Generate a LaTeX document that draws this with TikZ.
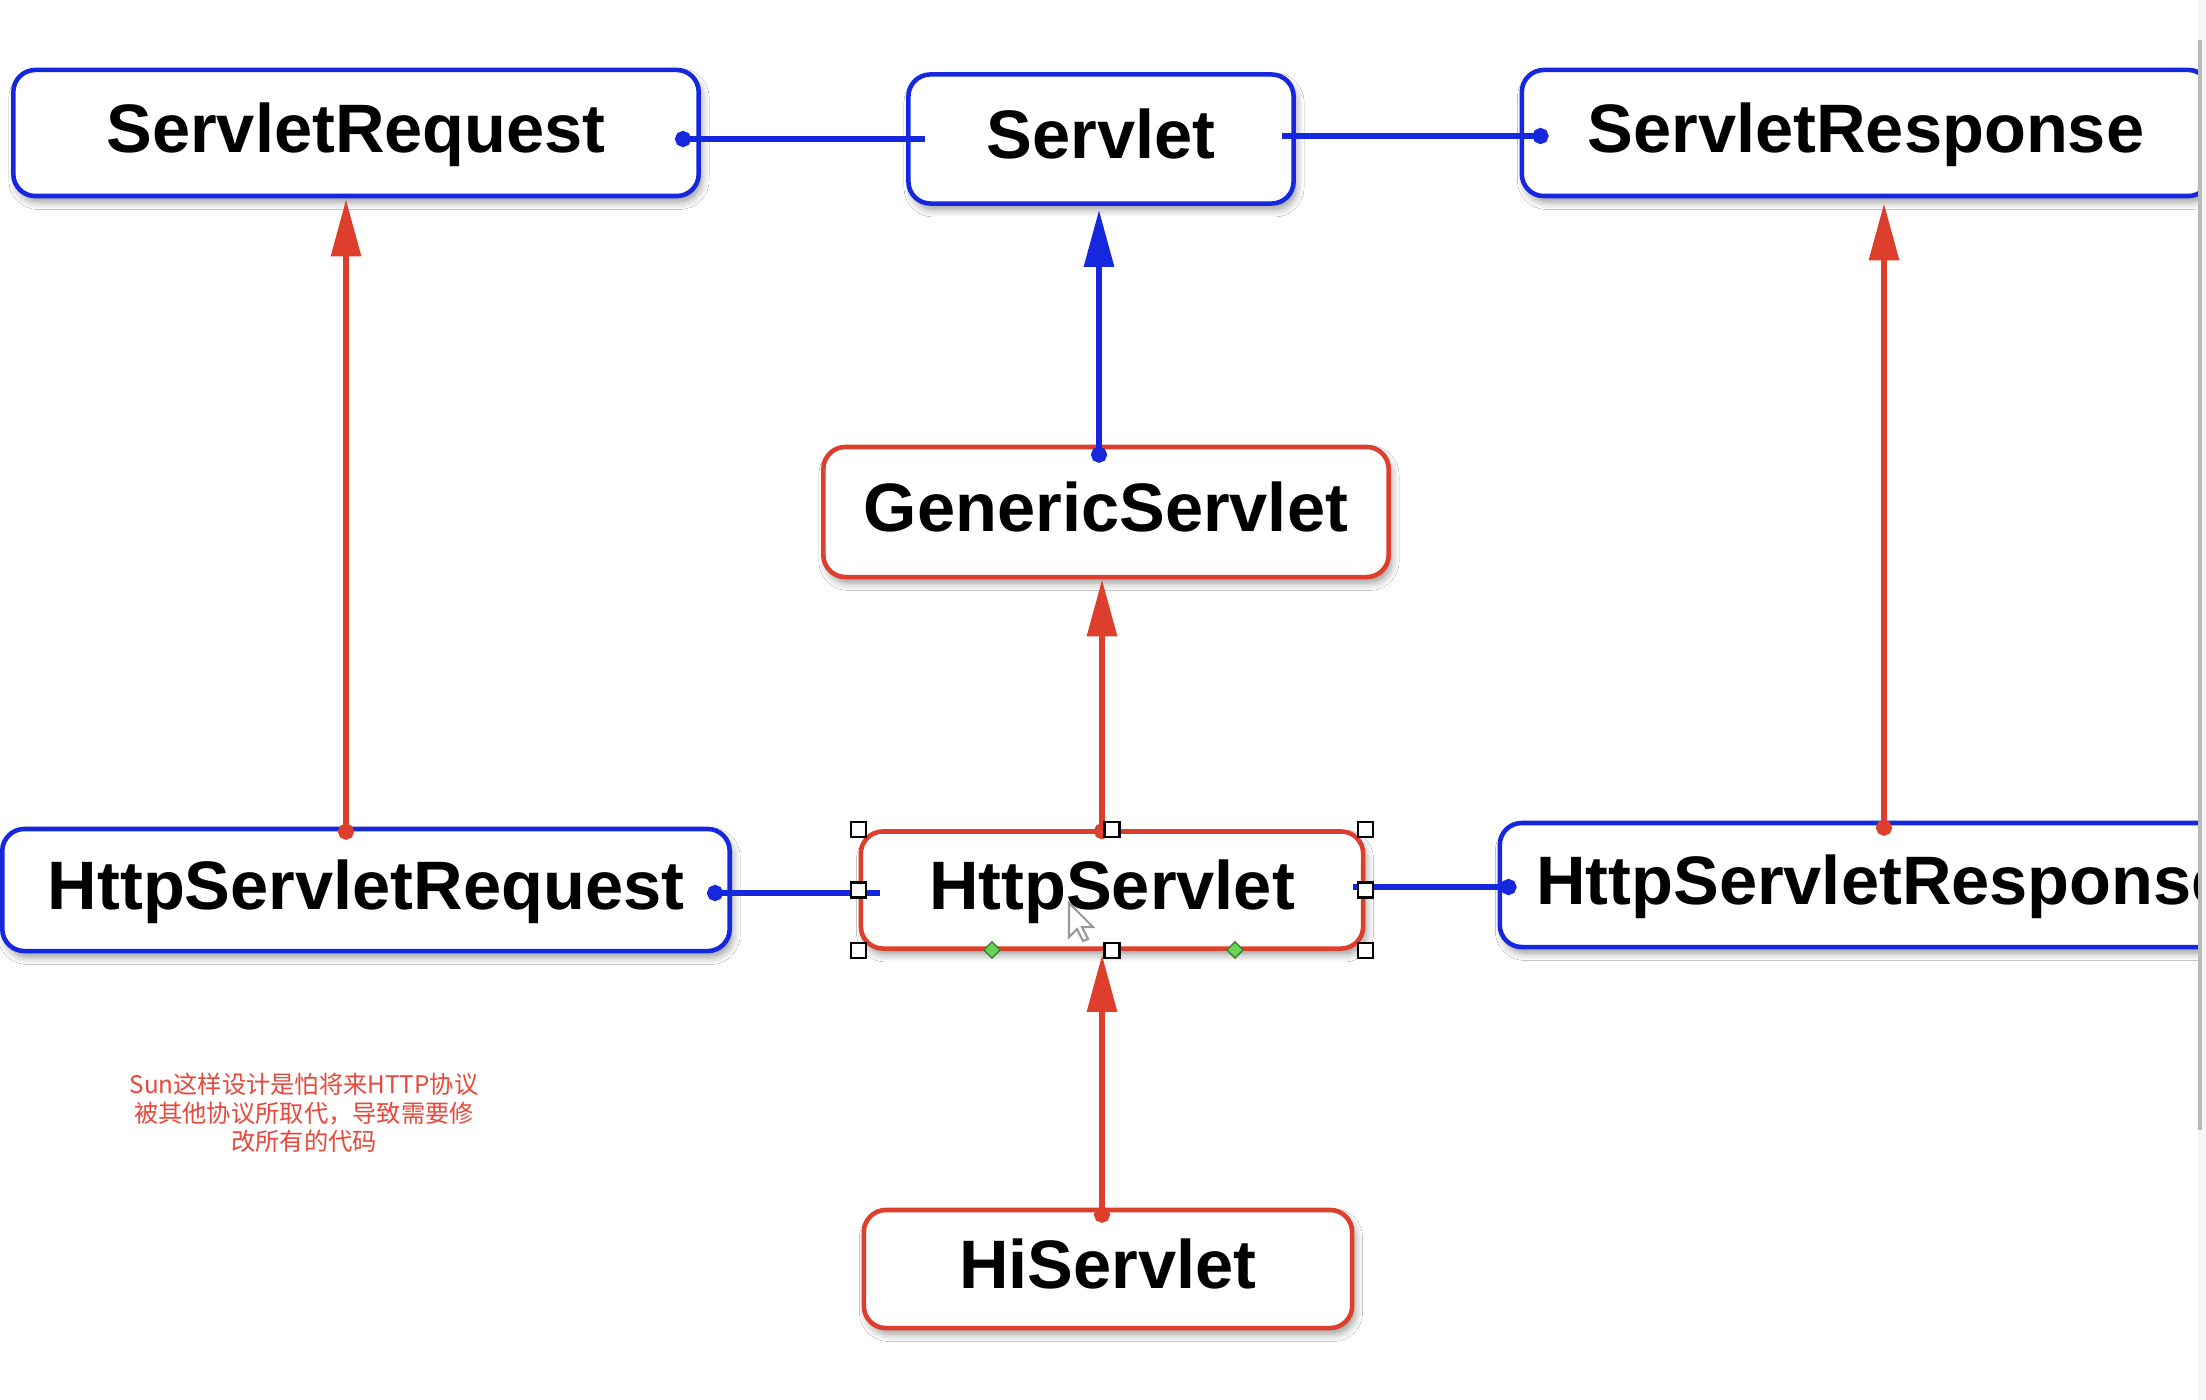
\documentclass[tikz,border=0pt]{standalone}
\usepackage{fontspec}
\setmainfont{Liberation Sans}
\newfontfamily\cjk{Noto Sans CJK SC}
\usetikzlibrary{arrows.meta,calc,shadows.blur,shapes.geometric}
\definecolor{vblue}{RGB}{22,40,222}
\definecolor{vred}{RGB}{222,62,44}
\definecolor{nred}{RGB}{232,72,60}
\definecolor{hgreen}{RGB}{105,212,85}
\begin{document}
\begin{tikzpicture}[x=0.01cm,y=-0.01cm,
  box/.style={draw, rounded corners=0.22cm, line width=1.3pt, fill=white,
    font=\fontsize{19.5}{22}\selectfont\bfseries, text height=14pt, text depth=3pt, inner sep=0pt,
    blur shadow={shadow xshift=0.03cm, shadow yshift=-0.06cm, shadow blur steps=6, shadow opacity=40}},
  ibox/.style={box, draw=vblue},
  cbox/.style={box, draw=vred},
  bline/.style={vblue, line width=1.7pt, arrows={Circle[length=0.16cm]-}},
  barrow/.style={vblue, line width=1.7pt, arrows={Circle[length=0.16cm]-Triangle[length=0.57cm,width=0.29cm]}},
  rarrow/.style={vred, line width=1.7pt, arrows={Circle[length=0.16cm]-Triangle[length=0.57cm,width=0.29cm]}},
  handle/.style={draw=black, fill=white, line width=0.6pt, minimum size=0.15cm, inner sep=0pt},
  gdiam/.style={diamond, draw=hgreen!60!black, fill=hgreen, line width=0.4pt, minimum size=0.17cm, inner sep=0pt},
  note/.style={font=\cjk\fontsize{6.9}{8.1}\selectfont, text=nred, align=center}
]
\useasboundingbox (0,0) rectangle (2206,1400);
\fill[white] (0,0) rectangle (2206,1400);
\begin{scope}
\clip (0,0) rectangle (2198,1400);
\node[ibox, minimum width=6.85cm, minimum height=1.26cm] (sreq) at (356,133) {ServletRequest};
\node[ibox, minimum width=3.85cm, minimum height=1.29cm] (srv) at (1101,139) {Servlet};
\node[ibox, minimum width=6.88cm, minimum height=1.26cm] (sresp) at (1866,133) {ServletResponse};
\node[cbox, minimum width=5.65cm, minimum height=1.30cm] (gen) at (1106,512) {GenericServlet};
\node[ibox, minimum width=7.27cm, minimum height=1.22cm] (hreq) at (366,890) {HttpServletRequest};
\node[cbox, minimum width=5.02cm, minimum height=1.17cm] (http) at (1112,890) {HttpServlet};
\node[ibox, minimum width=7.66cm, minimum height=1.24cm] (hresp) at (1883,885) {HttpServletResponse};
\node[cbox, minimum width=4.88cm, minimum height=1.18cm] (hi) at (1108,1269) {HiServlet};

\draw[bline] ($(sreq.east |- srv.west)+(-26,0)$) -- ($(srv.west)+(19,0)$);
\draw[bline] ($(sresp.west)+(29,3)$) -- ($(srv.east |- sresp.west)+(-14,3)$);
\draw[barrow] ($(gen.north -| srv.south)+(-2,18)$) -- ($(srv.south)+(-2,4)$);
\draw[rarrow] ($(http.north -| gen.south)+(-4,10)$) -- ($(gen.south)+(-4,0)$);
\draw[rarrow] ($(hi.north)+(-6,15)$) -- ($(hi.north |- http.south)+(-6,4)$);
\draw[rarrow] ($(hreq.north -| sreq.south)+(-10,13)$) -- ($(sreq.south)+(-10,1)$);
\draw[rarrow] ($(hresp.north -| sresp.south)+(18,15)$) -- ($(sresp.south)+(18,5)$);
\draw[bline] ($(hreq.east)+(-25,3)$) -- ($(http.west)+(21,3)$);
\draw[bline] ($(hresp.west)+(19,2)$) -- ($(http.east)+(-12,-3)$);

\foreach \a [count=\i] in {north west,north,north east,west,east,south west,south,south east}
  \node[handle] (hd\i) at (http.\a) {};
\node[gdiam] (dm1) at (992,950) {};
\node[gdiam] (dm2) at (1235,950) {};
\draw[fill=white, draw=gray!80, line width=0.6pt, shift={(1069,903)}]
  (0,0) -- (0,34) -- (8,26) -- (14,38) -- (19,36) -- (13,24) -- (24,24) -- cycle;

\node[note] (nt) at (304,1113) {Sun这样设计是怕将来HTTP协议\\被其他协议所取代，导致需要修\\改所有的代码};
\end{scope}
\fill[gray!8] (2198,0) rectangle (2206,1400);
\draw[gray!55, line width=0.9pt] (2200,40) -- (2200,1130);
\end{tikzpicture}
\end{document}
